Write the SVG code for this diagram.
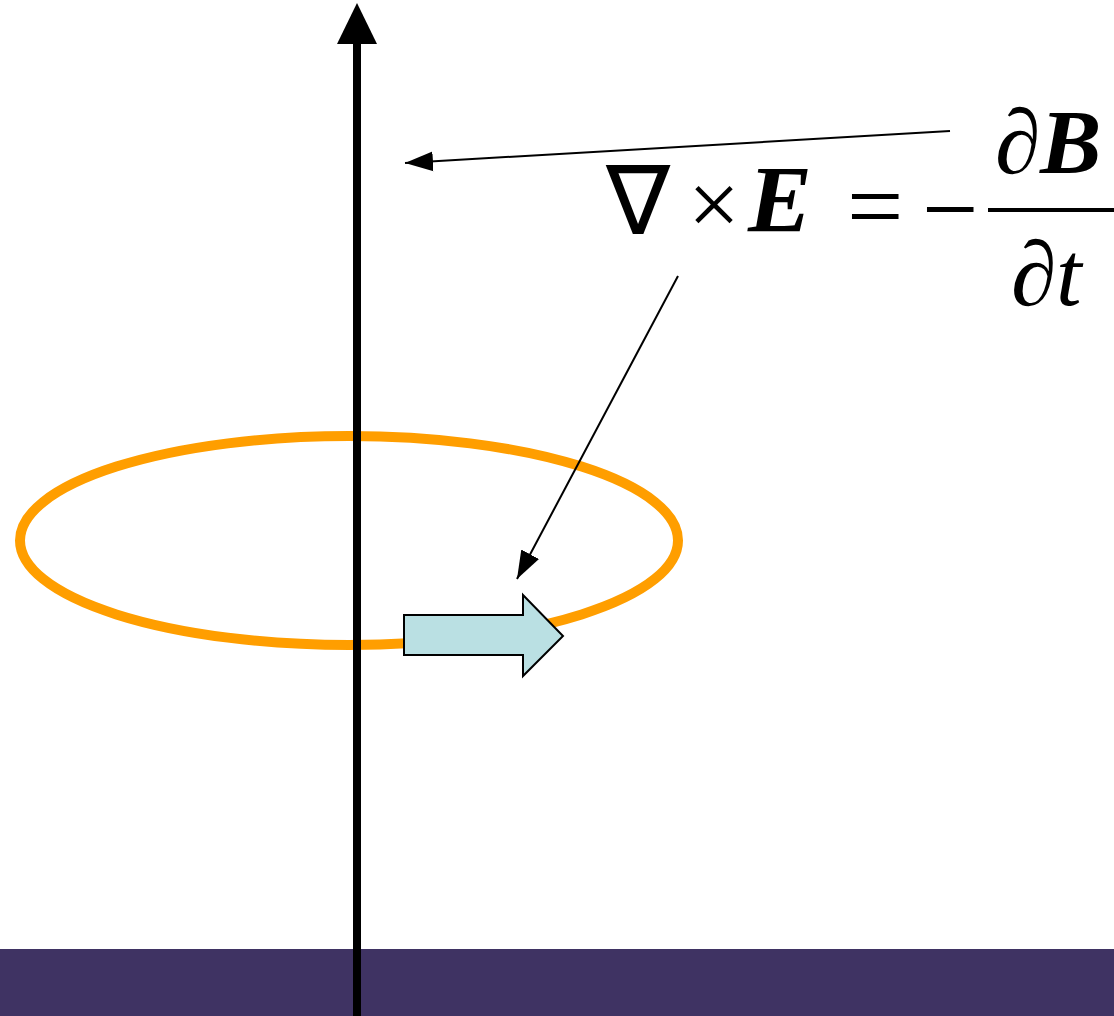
<svg xmlns="http://www.w3.org/2000/svg" width="1114" height="1016" viewBox="0 0 1114 1016">
<style>
.m{font-family:"Liberation Serif","Times New Roman",serif;font-size:92px;fill:#000}
.op{font-family:"DejaVu Sans ExtraLight","DejaVu Sans",sans-serif}
.bi{font-weight:bold;font-style:italic}
.i{font-style:italic}
.thin{stroke:#000;stroke-width:2;fill:none}
</style>
<defs>
<marker id="ah" markerUnits="userSpaceOnUse" markerWidth="30" markerHeight="24" refX="28" refY="12" orient="auto" viewBox="0 0 30 24">
<path d="M0,2 L28,12 L0,22 Z" fill="#000"/>
</marker>
</defs>
<rect x="0" y="0" width="1114" height="1016" fill="#fff"/>
<g id="ground"><rect x="0" y="949" width="1114" height="67" fill="#3f3363"/></g>
<g id="loop"><ellipse cx="349" cy="540.5" rx="329" ry="104.5" fill="none" stroke="#ff9e00" stroke-width="10"/></g>
<g id="axis">
<rect x="353" y="40" width="8" height="976" fill="#000"/>
<path d="M357,3 L377,44 L337,44 Z" fill="#000"/>
</g>
<g id="field-arrow"><path d="M404,615 L523,615 L523,595 L563,636 L523,676 L523,655 L404,655 Z" fill="#bae0e3" stroke="#000" stroke-width="2"/></g>
<g id="equation">
<text class="m op" x="606" y="234" style="font-size:96px">∇</text>
<text class="m" x="688" y="235">×</text>
<text class="m bi" x="748" y="232" style="font-size:96px">E</text>
<text class="m" x="847" y="240" style="font-size:100px">=</text>
<text class="m" x="922" y="243" style="font-size:100px">−</text>
<rect x="988" y="208" width="126" height="4" fill="#000"/>
<text class="m" x="995" y="173">∂</text><text class="m bi" x="1040" y="173">B</text>
<text class="m" x="1011" y="305">∂</text><text class="m i" x="1056" y="305">t</text>
</g>
<g id="connectors">
<line class="thin" x1="950" y1="131" x2="405" y2="163" marker-end="url(#ah)"/>
<line class="thin" x1="678" y1="276" x2="517" y2="579" marker-end="url(#ah)"/>
</g>
</svg>
